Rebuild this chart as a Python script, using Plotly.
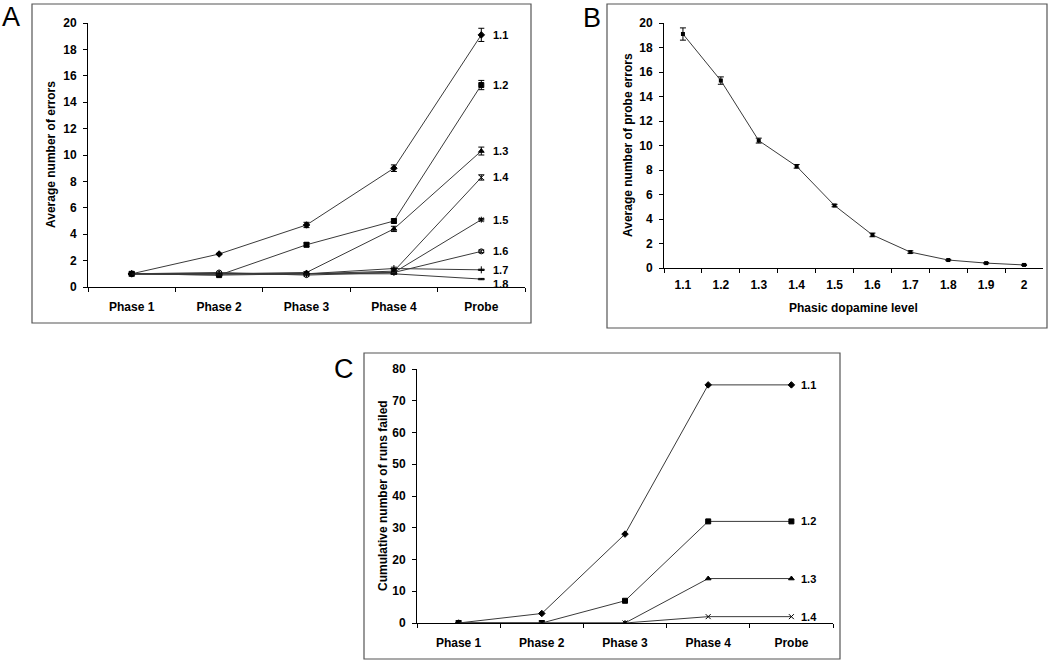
import plotly.graph_objects as go

W, H = 1050, 662

# ---------------- data ----------------
phases = ["Phase 1", "Phase 2", "Phase 3", "Phase 4", "Probe"]

levels_a = ["1.1", "1.2", "1.3", "1.4", "1.5", "1.6", "1.7", "1.8"]
errors_a = {
    "1.1": [1.0, 2.5, 4.7, 9.0, 19.1],
    "1.2": [1.0, 0.9, 3.2, 5.0, 15.3],
    "1.3": [1.0, 1.0, 1.1, 4.4, 10.3],
    "1.4": [1.0, 1.0, 1.0, 1.2, 8.3],
    "1.5": [1.0, 1.0, 1.0, 1.1, 5.1],
    "1.6": [1.0, 1.1, 0.9, 1.1, 2.7],
    "1.7": [1.0, 1.0, 1.0, 1.4, 1.3],
    "1.8": [1.0, 0.9, 1.0, 1.0, 0.6],
}
sem_a = {
    "1.1": [0.05, 0.05, 0.2, 0.25, 0.5],
    "1.2": [0.05, 0.05, 0.15, 0.15, 0.35],
    "1.3": [0.05, 0.05, 0.05, 0.2, 0.3],
    "1.4": [0.0, 0.0, 0.0, 0.15, 0.2],
    "1.5": [0.0, 0.0, 0.0, 0.1, 0.1],
    "1.6": [0.0, 0.0, 0.05, 0.1, 0.1],
    "1.7": [0.0, 0.0, 0.0, 0.1, 0.05],
    "1.8": [0.0, 0.0, 0.0, 0.05, 0.05],
}
symbols_a = ["diamond", "square", "triangle-up", "x-thin-open", "asterisk-open",
             "circle-open", "cross-thin-open", "line-ew-open"]

levels_b = ["1.1", "1.2", "1.3", "1.4", "1.5", "1.6", "1.7", "1.8", "1.9", "2"]
probe_b = [19.1, 15.3, 10.4, 8.3, 5.1, 2.7, 1.3, 0.65, 0.4, 0.25]
sem_b = [0.5, 0.3, 0.2, 0.15, 0.1, 0.15, 0.1, 0.05, 0.05, 0.05]

levels_c = ["1.1", "1.2", "1.3", "1.4"]
failed_c = {
    "1.1": [0, 3, 28, 75, 75],
    "1.2": [0, 0, 7, 32, 32],
    "1.3": [0, 0, 0, 14, 14],
    "1.4": [0, 0, 0, 2, 2],
}
symbols_c = ["diamond", "square", "triangle-up", "x-thin-open"]

# ---------------- helpers ----------------
def px(x):
    return x / W

def py(y):
    return 1 - y / H

FONT = "Liberation Sans, Arial, sans-serif"
LINE = "#3a3a3a"

fig = go.Figure()

# Panel A
for lev, sym in zip(levels_a, symbols_a):
    fig.add_trace(go.Scatter(
        x=phases, y=errors_a[lev], mode="lines+markers",
        line=dict(color=LINE, width=1),
        marker=dict(symbol=sym, size=5, color="black",
                    line=dict(color="black", width=1)),
        error_y=dict(type="data", array=sem_a[lev], color="black",
                     thickness=1, width=3),
        xaxis="x", yaxis="y", showlegend=False))

# Panel B
fig.add_trace(go.Scatter(
    x=levels_b, y=probe_b, mode="lines+markers",
    line=dict(color=LINE, width=1),
    marker=dict(symbol="square", size=4, color="black"),
    error_y=dict(type="data", array=sem_b, color="black", thickness=1, width=3),
    xaxis="x2", yaxis="y2", showlegend=False))

# Panel C
for lev, sym in zip(levels_c, symbols_c):
    fig.add_trace(go.Scatter(
        x=phases, y=failed_c[lev], mode="lines+markers",
        line=dict(color=LINE, width=1),
        marker=dict(symbol=sym, size=5, color="black",
                    line=dict(color="black", width=1)),
        xaxis="x3", yaxis="y3", showlegend=False))

tickfont = dict(family=FONT, size=12, color="black", weight="bold")
axis_common = dict(showline=True, linecolor="black", linewidth=1,
                   ticks="outside", ticklen=4, tickcolor="black",
                   showgrid=False, zeroline=False, tickfont=tickfont,
                   automargin=False)

fig.update_layout(
    template="none",
    width=W, height=H,
    margin=dict(l=0, r=0, t=0, b=0, pad=0, autoexpand=False),
    paper_bgcolor="white", plot_bgcolor="white",
    xaxis=dict(domain=[px(88), px(525)], anchor="y", type="category",
               range=[-0.5, 4.5], tickson="boundaries", ticklabelstandoff=9,
               **axis_common),
    yaxis=dict(domain=[py(287), py(23)], anchor="x", range=[0, 20], dtick=2,
               ticklabelstandoff=4, **axis_common),
    xaxis2=dict(domain=[px(664), px(1043)], anchor="y2", type="category",
                range=[-0.5, 9.5], tickson="boundaries", ticklabelstandoff=6,
                **axis_common),
    yaxis2=dict(domain=[py(268), py(23)], anchor="x2", range=[0, 20], dtick=2,
                ticklabelstandoff=4, **axis_common),
    xaxis3=dict(domain=[px(417), px(833)], anchor="y3", type="category",
                range=[-0.5, 4.5], tickson="boundaries", ticklabelstandoff=9,
                **axis_common),
    yaxis3=dict(domain=[py(623), py(369)], anchor="x3", range=[0, 80], dtick=10,
                ticklabelstandoff=4, **axis_common),
)

# panel frames
for (x0, y0, x1, y1) in [(32, 4, 531, 323), (607, 4, 1047, 328), (364, 353, 840, 659)]:
    fig.add_shape(type="rect", xref="paper", yref="paper",
                  x0=px(x0), x1=px(x1), y0=py(y1), y1=py(y0),
                  line=dict(color="#555555", width=1.2))

ann_font = dict(family=FONT, size=11, color="black", weight="bold")
annotations = []
# series labels
yshift_a = {"1.8": -5}
for lev in levels_a:
    annotations.append(dict(x="Probe", y=errors_a[lev][-1], xref="x", yref="y",
                            text=lev, showarrow=False, xanchor="left", yanchor="middle",
                            xshift=10, yshift=yshift_a.get(lev, 0), font=ann_font))
for lev in levels_c:
    annotations.append(dict(x="Probe", y=failed_c[lev][-1], xref="x3", yref="y3",
                            text=lev, showarrow=False, xanchor="left", yanchor="middle",
                            xshift=8, font=ann_font))
# axis titles
title_font = dict(family=FONT, size=12, color="black", weight="bold")
annotations += [
    dict(x=px(51), y=py(155), text="Average number of errors", textangle=-90,
         font=title_font),
    dict(x=px(628), y=py(145), text="Average number of probe errors", textangle=-90,
         font=title_font),
    dict(x=px(853), y=py(308), text="Phasic dopamine level", font=title_font),
    dict(x=px(383), y=py(496), text="Cumulative number of runs failed", textangle=-90,
         font=title_font),
]
for a in annotations[-4:]:
    a.update(xref="paper", yref="paper", showarrow=False,
             xanchor="center", yanchor="middle")
# panel letters
letter_font = dict(family=FONT, size=27, color="black")
for t, x, y in [("A", 11, 17), ("B", 592, 18), ("C", 344, 369)]:
    annotations.append(dict(x=px(x), y=py(y), xref="paper", yref="paper", text=t,
                            showarrow=False, xanchor="center", yanchor="middle",
                            font=letter_font))
fig.update_layout(annotations=annotations)

pin_js = (
    "document.documentElement.style.margin='0';"
    "document.documentElement.style.overflow='hidden';"
    "document.body.style.margin='0';document.body.style.padding='0';"
    "document.body.style.overflow='hidden';"
    "var g=document.querySelector('.plotly-graph-div');"
    "if(g){g.style.position='fixed';g.style.top='0px';g.style.left='0px';}"
)
fig.write_html("out.html", config={"displayModeBar": False}, post_script=pin_js)
